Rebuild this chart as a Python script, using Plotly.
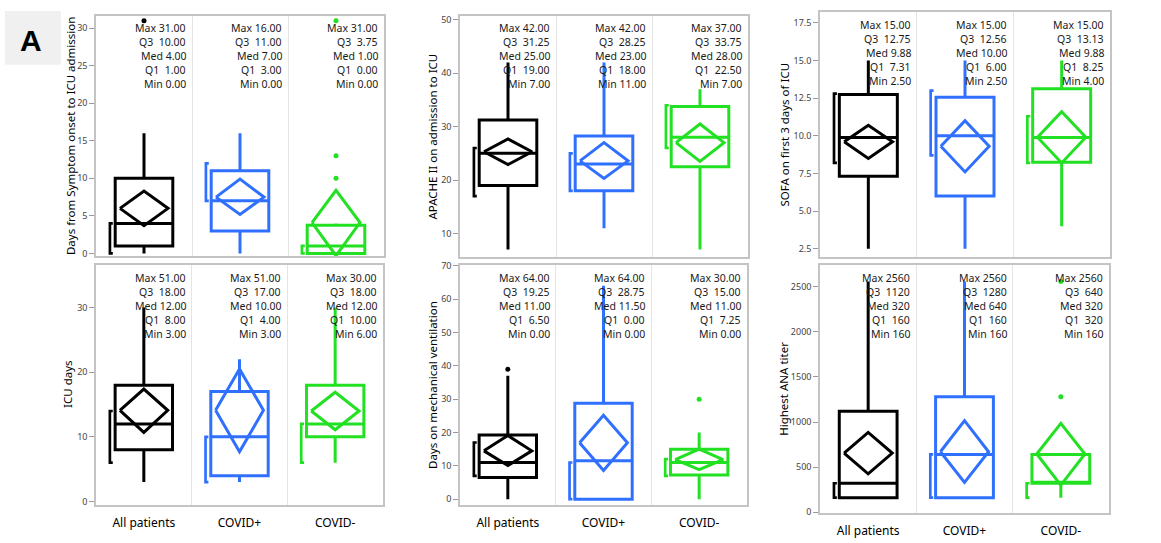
import plotly.graph_objects as go

W, H = 1161, 543
FONT = "Noto Sans"

categories = ["All patients", "COVID+", "COVID-"]
colors = ["#000000", "#3070FF", "#22E022"]

# ---------- Panel data ----------
# 1: Days from symptom onset to ICU admission
p1_max = [31, 16, 31]
p1_q3 = [10, 11, 3.75]
p1_med = [4, 7, 1]
p1_q1 = [1, 3, 0]
p1_min = [0, 0, 0]
p1_wlo = [0, 0, 0]
p1_whi = [16, 16, 4]
p1_mean = [6.0, 7.5, 4.1]
p1_cilo = [3.7, 5.2, -0.3]
p1_cihi = [8.3, 9.9, 8.4]
p1_shlo = [0, 7, 0]
p1_shhi = [4, 12, 1]
p1_out = [[31], [], [10, 13, 31]]

# 2: APACHE II on admission to ICU
p2_max = [42, 42, 37]
p2_q3 = [31.25, 28.25, 33.75]
p2_med = [25, 23, 28]
p2_q1 = [19, 18, 22.5]
p2_min = [7, 11, 7]
p2_wlo = [7, 11, 7]
p2_whi = [42, 42, 37]
p2_mean = [25.3, 23.6, 27.0]
p2_cilo = [22.9, 20.3, 23.5]
p2_cihi = [27.7, 27.0, 30.5]
p2_shlo = [17, 18, 26]
p2_shhi = [26, 25, 34]
p2_out = [[], [], []]

# 3: SOFA on first 3 days of ICU
p3_max = [15, 15, 15]
p3_q3 = [12.75, 12.56, 13.13]
p3_med = [9.88, 10.0, 9.88]
p3_q1 = [7.31, 6.0, 8.25]
p3_min = [2.5, 2.5, 4.0]
p3_wlo = [2.5, 2.5, 4.0]
p3_whi = [15, 15, 15]
p3_mean = [9.6, 9.3, 9.9]
p3_cilo = [8.5, 7.6, 8.2]
p3_cihi = [10.7, 11.0, 11.6]
p3_shlo = [8.2, 8.7, 8.2]
p3_shhi = [12.8, 13.0, 11.3]
p3_out = [[], [], []]

# 4: ICU days
p4_max = [51, 51, 30]
p4_q3 = [18, 17, 18]
p4_med = [12, 10, 12]
p4_q1 = [8, 4, 10]
p4_min = [3, 3, 6]
p4_wlo = [3, 3, 6]
p4_whi = [30, 22, 30]
p4_mean = [14.1, 14.1, 14.0]
p4_cilo = [10.7, 7.7, 11.1]
p4_cihi = [17.4, 20.5, 16.9]
p4_shlo = [6, 3, 6]
p4_shhi = [14, 10, 12]
p4_out = [[51], [51], []]

# 5: Days on mechanical ventilation
p5_max = [64, 64, 30]
p5_q3 = [19.25, 28.75, 15]
p5_med = [11, 11.5, 11]
p5_q1 = [6.5, 0, 7.25]
p5_min = [0, 0, 0]
p5_wlo = [0, 0, 0]
p5_whi = [37, 64, 20]
p5_mean = [14.5, 16.9, 11.9]
p5_cilo = [10.1, 8.6, 8.9]
p5_cihi = [19.1, 25.2, 15.0]
p5_shlo = [7, 0, 7]
p5_shhi = [17, 11, 12]
p5_out = [[39], [], [30]]

# 6: Highest ANA titer
p6_max = [2560, 2560, 2560]
p6_q3 = [1120, 1280, 640]
p6_med = [320, 640, 320]
p6_q1 = [160, 160, 320]
p6_min = [160, 160, 160]
p6_wlo = [160, 160, 160]
p6_whi = [2560, 2560, 640]
p6_mean = [655, 670, 645]
p6_cilo = [425, 330, 300]
p6_cihi = [885, 1015, 985]
p6_shlo = [160, 160, 160]
p6_shhi = [320, 640, 320]
p6_out = [[], [], [1280, 2560]]

y_titles = ["Days from Symptom onset to ICU admission", "APACHE II on admission to ICU",
            "SOFA on first 3 days of ICU", "ICU days", "Days on mechanical ventilation",
            "Highest ANA titer"]

panels = [
    dict(mx=p1_max, q3=p1_q3, med=p1_med, q1=p1_q1, mn=p1_min, wlo=p1_wlo, whi=p1_whi, mean=p1_mean,
         cilo=p1_cilo, cihi=p1_cihi, shlo=p1_shlo, shhi=p1_shhi, out=p1_out, fmt="{:.2f}"),
    dict(mx=p2_max, q3=p2_q3, med=p2_med, q1=p2_q1, mn=p2_min, wlo=p2_wlo, whi=p2_whi, mean=p2_mean,
         cilo=p2_cilo, cihi=p2_cihi, shlo=p2_shlo, shhi=p2_shhi, out=p2_out, fmt="{:.2f}"),
    dict(mx=p3_max, q3=p3_q3, med=p3_med, q1=p3_q1, mn=p3_min, wlo=p3_wlo, whi=p3_whi, mean=p3_mean,
         cilo=p3_cilo, cihi=p3_cihi, shlo=p3_shlo, shhi=p3_shhi, out=p3_out, fmt="{:.2f}"),
    dict(mx=p4_max, q3=p4_q3, med=p4_med, q1=p4_q1, mn=p4_min, wlo=p4_wlo, whi=p4_whi, mean=p4_mean,
         cilo=p4_cilo, cihi=p4_cihi, shlo=p4_shlo, shhi=p4_shhi, out=p4_out, fmt="{:.2f}"),
    dict(mx=p5_max, q3=p5_q3, med=p5_med, q1=p5_q1, mn=p5_min, wlo=p5_wlo, whi=p5_whi, mean=p5_mean,
         cilo=p5_cilo, cihi=p5_cihi, shlo=p5_shlo, shhi=p5_shhi, out=p5_out, fmt="{:.2f}"),
    dict(mx=p6_max, q3=p6_q3, med=p6_med, q1=p6_q1, mn=p6_min, wlo=p6_wlo, whi=p6_whi, mean=p6_mean,
         cilo=p6_cilo, cihi=p6_cihi, shlo=p6_shlo, shhi=p6_shhi, out=p6_out, fmt="{:.0f}"),
]

# ---------- Layout geometry (pixels) ----------
frames = [(96, 384, 10, 256), (460, 748, 10, 257), (820, 1110, 6, 257),
          (96, 383, 265, 510), (460, 747, 265, 510), (820, 1109, 265, 518)]
y_ranges = [[-0.39, 31.65], [5.56, 50.73], [1.93, 18.23],
            [-0.5, 36.57], [-1.66, 70.2], [-5, 2741]]
y_dticks = [5, 10, 2.5, 10, 10, 500]
y_tickfmt = ["d", "d", ".1f", "d", "d", "d"]
title_x = [70, 433, 785, 68, 433, 784]

BOX_HW = 0.3
DIA_HW = 0.25
BR_X = 0.355
BR_TICK = 0.03
LW = 3

fig = go.Figure()
layout = {}
annotations = []

for p, (pd_, fr) in enumerate(zip(panels, frames)):
    n = p + 1
    xa = "x" if n == 1 else f"x{n}"
    ya = "y" if n == 1 else f"y{n}"
    x0, x1, t, b = fr
    for i, cat in enumerate(categories):
        col = colors[i]
        # box with whiskers and median
        fig.add_trace(go.Box(
            x=[i], q1=[pd_["q1"][i]], median=[pd_["med"][i]], q3=[pd_["q3"][i]],
            lowerfence=[pd_["wlo"][i]], upperfence=[pd_["whi"][i]],
            width=2 * BOX_HW, whiskerwidth=0, line=dict(color=col, width=LW),
            fillcolor="rgba(0,0,0,0)", boxpoints=False, showlegend=False,
            hoverinfo="skip", xaxis=xa, yaxis=ya))
        # means diamond
        m, lo, hi = pd_["mean"][i], pd_["cilo"][i], pd_["cihi"][i]
        fig.add_trace(go.Scatter(
            x=[i - DIA_HW, i, i + DIA_HW, i, i - DIA_HW], y=[m, hi, m, lo, m],
            mode="lines", line=dict(color=col, width=LW), showlegend=False,
            hoverinfo="skip", xaxis=xa, yaxis=ya))
        # shortest half bracket
        sl, sh = pd_["shlo"][i], pd_["shhi"][i]
        bx = i - BR_X
        fig.add_trace(go.Scatter(
            x=[bx + BR_TICK, bx, bx, bx + BR_TICK], y=[sl, sl, sh, sh],
            mode="lines", line=dict(color=col, width=LW * 0.9), showlegend=False,
            hoverinfo="skip", xaxis=xa, yaxis=ya))
        # outliers
        if pd_["out"][i]:
            fig.add_trace(go.Scatter(
                x=[i] * len(pd_["out"][i]), y=pd_["out"][i], mode="markers",
                marker=dict(color=col, size=5), showlegend=False,
                hoverinfo="skip", xaxis=xa, yaxis=ya))
        # summary text, one line per annotation
        f = pd_["fmt"]
        sp = "\u00a0"
        lines = [
            "Max " + f.format(pd_["mx"][i]),
            "Q3" + sp * 2 + f.format(pd_["q3"][i]),
            "Med " + f.format(pd_["med"][i]),
            "Q1" + sp * 2 + f.format(pd_["q1"][i]),
            "Min " + f.format(pd_["mn"][i]),
        ]
        for k, line in enumerate(lines):
            annotations.append(dict(
                x=i + 0.5, y=1, xref=xa, yref=f"{ya} domain", text=line, showarrow=False,
                xanchor="right", yanchor="middle", align="right", xshift=-4,
                yshift=-(12.7 + 14 * k),
                font=dict(family=FONT, size=10.5, color="#1A1A1A")))

    bottom = n >= 4
    layout["xaxis" if n == 1 else f"xaxis{n}"] = dict(
        domain=[x0 / W, x1 / W], range=[-0.5, 2.5], anchor=ya,
        tickvals=[0, 1, 2], ticktext=categories, showticklabels=bottom, ticks="",
        ticklabelstandoff=6,
        tickfont=dict(family=FONT, size=12, color="#000000"),
        showgrid=False, zeroline=False, showline=True, mirror=True,
        linecolor="#C4C4C4", linewidth=1.5,
        minor=dict(tickvals=[0.5, 1.5], showgrid=True, gridcolor="#E4E4E4", gridwidth=1, ticklen=0),
    )
    layout["yaxis" if n == 1 else f"yaxis{n}"] = dict(
        domain=[1 - b / H, 1 - t / H], range=y_ranges[p], anchor=xa,
        dtick=y_dticks[p], tickformat=y_tickfmt[p], ticks="outside", ticklen=5,
        tickcolor="#999999", tickwidth=1,
        tickfont=dict(family=FONT, size=9, color="#444444"),
        showgrid=False, zeroline=False, showline=True, mirror=True,
        linecolor="#C4C4C4", linewidth=1.5,
    )
    annotations.append(dict(
        x=title_x[p] / W, y=1 - (t + b) / 2 / H, xref="paper", yref="paper",
        text=y_titles[p], textangle=-90, showarrow=False, xanchor="center", yanchor="middle",
        font=dict(family=FONT, size=11.5, color="#000000")))

# Panel letter
annotations.append(dict(x=31 / W, y=1 - 35 / H, xref="paper", yref="paper", text="<b>A</b>",
                        showarrow=False, xanchor="center", yanchor="middle",
                        font=dict(family="Liberation Sans", size=30, color="#000000")))

fig.update_layout(
    width=W, height=H, margin=dict(l=0, r=0, t=0, b=0),
    paper_bgcolor="white", plot_bgcolor="white", boxmode="overlay",
    annotations=annotations,
    shapes=[dict(type="rect", xref="paper", yref="paper", x0=5 / W, x1=61 / W,
                 y0=1 - 60 / H, y1=1 - 5 / H, fillcolor="#F0F0F0", line=dict(width=0), layer="below")],
    **layout,
)

fig.write_html("out.html")
